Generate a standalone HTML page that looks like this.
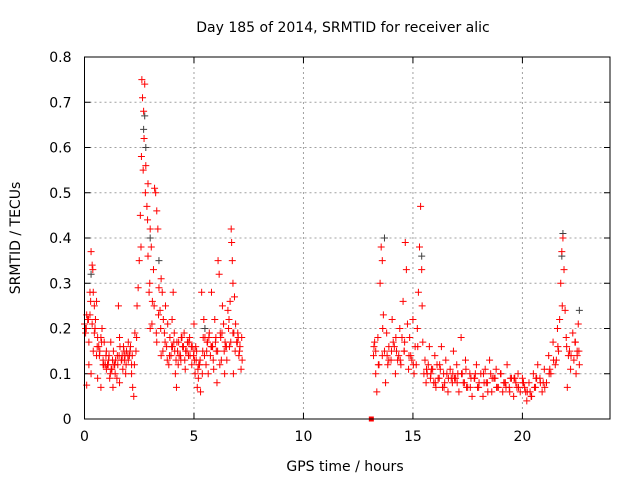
<!DOCTYPE html>
<html><head><meta charset="utf-8"><style>
body{margin:0;background:#fff}
svg text{font-family:"DejaVu Sans","Liberation Sans",sans-serif;font-size:14px;fill:#000}
</style></head><body>
<svg width="640" height="480" id="c"></svg>
<script>
const xTicks=[0,5,10,15,20];
const yTicks=[0,0.1,0.2,0.3,0.4,0.5,0.6,0.7,0.8];
const yTickLabels=["0","0.1","0.2","0.3","0.4","0.5","0.6","0.7","0.8"];
const redX=[0,0.05,0.1,0.1,0.15,0.2,0.2,0.25,0.3,0.3,0.35,0.4,0.4,0.45,0.5,0.55,0.6,0.6,0.7,0.75,0.8,0.85,0.9,1,1,1.1,1.15,1.2,1.25,1.3,1.35,1.4,1.5,1.55,1.6,1.6,1.7,1.75,1.8,1.85,1.9,2,2,2.1,2.15,2.2,2.25,2.3,2.35,2.4,2.45,2.5,2.55,2.6,2.62,2.65,2.7,2.72,2.75,2.8,2.85,2.9,2.9,2.95,3,3,3.05,3.1,3.15,3.2,3.25,3.3,3.3,3.35,3.4,3.45,3.5,3.5,3.55,3.6,3.65,3.7,3.75,3.8,3.85,3.9,3.95,4,4.05,4.1,4.15,4.2,4.25,4.3,4.4,4.45,4.5,4.55,4.6,4.7,4.75,4.8,4.9,5,5,5.05,5.1,5.15,5.2,5.25,5.3,5.35,5.4,5.45,5.5,5.55,5.6,5.65,5.7,5.75,5.8,5.85,5.9,5.95,6,6.05,6.1,6.15,6.2,6.25,6.3,6.35,6.4,6.45,6.5,6.55,6.6,6.65,6.7,6.72,6.75,6.78,6.8,6.85,6.9,6.95,7,7.05,7.1,7.15,7.2,
1.05,1.12,1.22,1.32,1.42,1.52,1.62,1.72,1.82,1.92,2.05,2.15,0.05,0.15,0.25,0.35,0.45,0.55,0.65,0.75,0.85,0.95,4.02,4.12,4.22,4.32,4.42,4.52,4.62,4.72,4.82,4.92,5.02,5.12,5.22,5.42,5.62,5.82,6.02,6.22,6.42,6.62,6.82,7.02,
0.08,0.18,0.28,0.38,0.48,0.58,0.68,0.78,0.88,0.98,1.08,1.18,1.28,1.38,1.48,1.58,1.68,1.78,1.88,1.98,2.08,2.18,2.28,2.38,3.08,3.18,3.28,3.38,3.48,3.58,3.68,3.78,3.88,3.98,4.08,4.18,4.28,4.38,4.48,4.58,4.68,4.78,4.88,4.98,5.08,5.18,5.28,5.38,5.48,5.58,5.68,5.78,5.88,5.98,6.08,6.18,6.28,6.38,6.48,6.58,6.68,6.78,6.88,6.98,7.08,7.18,2.58,2.68,2.78,2.88,2.98,
13.2,13.25,13.3,13.35,13.4,13.45,13.5,13.55,13.6,13.65,13.7,13.75,13.8,13.85,13.9,14,14.05,14.1,14.2,14.25,14.3,14.4,14.45,14.5,14.55,14.6,14.65,14.7,14.75,14.8,14.85,14.9,15,15.05,15.1,15.15,15.2,15.25,15.3,15.35,15.4,15.45,15.5,15.55,15.6,15.7,15.75,15.8,15.9,16,16.05,16.1,16.2,16.3,16.35,16.4,16.5,16.6,16.7,16.8,16.85,16.9,17,17.1,17.2,17.25,17.3,17.4,17.5,17.6,17.7,17.8,17.9,18,18.1,18.2,18.3,18.4,18.5,18.6,18.7,18.8,18.9,19,19.1,19.2,19.3,19.4,19.5,19.6,19.7,19.8,19.9,20,20.1,20.2,20.3,20.4,20.5,20.6,20.7,20.8,20.9,21,21.1,21.2,21.3,21.4,21.5,21.6,21.65,21.7,21.75,21.8,21.85,21.9,21.95,22,22.05,22.1,22.2,22.3,22.35,22.4,22.45,22.5,22.55,22.6,
13.3,13.6,13.9,14.15,14.35,14.6,14.95,15.65,15.85,16.15,16.45,16.75,17.05,17.35,17.65,17.95,18.25,18.55,18.85,19.15,19.45,19.75,20.05,20.35,20.65,20.95,21.25,21.55,22.15,22.5,15.95,16.25,16.55,16.95,17.45,17.85,18.35,18.75,19.25,19.65,20.15,20.55,
13.22,13.42,13.62,13.82,14.02,14.22,14.42,14.62,14.82,15.02,15.22,15.42,15.62,15.82,16.02,16.22,16.42,16.62,16.82,17.02,17.22,17.42,17.62,17.82,18.02,18.22,18.42,18.62,18.82,19.02,19.22,19.42,19.62,19.82,20.02,20.22,20.42,20.62,20.82,21.02,21.22,21.42,21.62,21.82,22.02,22.22,22.42,22.58];
const redY=[0.21,0.19,0.23,0.075,0.22,0.17,0.12,0.28,0.37,0.10,0.34,0.28,0.15,0.25,0.22,0.26,0.18,0.09,0.15,0.07,0.20,0.12,0.17,0.15,0.11,0.13,0.09,0.17,0.11,0.07,0.12,0.10,0.14,0.25,0.08,0.18,0.13,0.11,0.15,0.14,0.12,0.17,0.13,0.16,0.10,0.07,0.05,0.19,0.15,0.25,0.29,0.35,0.45,0.58,0.75,0.71,0.68,0.62,0.74,0.56,0.47,0.52,0.36,0.28,0.42,0.20,0.38,0.26,0.33,0.51,0.50,0.46,0.17,0.42,0.29,0.24,0.31,0.14,0.28,0.22,0.19,0.25,0.16,0.21,0.12,0.18,0.14,0.22,0.28,0.19,0.10,0.07,0.15,0.17,0.13,0.18,0.16,0.19,0.11,0.17,0.14,0.18,0.12,0.21,0.15,0.10,0.13,0.07,0.09,0.12,0.06,0.28,0.15,0.22,0.18,0.12,0.17,0.10,0.19,0.14,0.28,0.16,0.11,0.22,0.18,0.08,0.35,0.32,0.19,0.13,0.25,0.21,0.10,0.16,0.13,0.24,0.22,0.26,0.42,0.39,0.35,0.30,0.10,0.27,0.21,0.17,0.19,0.14,0.16,0.11,0.13,
0.12,0.14,0.11,0.15,0.13,0.12,0.16,0.14,0.13,0.15,0.14,0.12,0.2,0.22,0.23,0.21,0.19,0.14,0.16,0.18,0.13,0.12,0.16,0.15,0.17,0.14,0.18,0.16,0.15,0.17,0.14,0.16,0.13,0.15,0.12,0.18,0.17,0.16,0.15,0.18,0.17,0.16,0.19,0.18,
0.2,0.22,0.26,0.33,0.2,0.16,0.14,0.17,0.12,0.14,0.12,0.1,0.13,0.12,0.09,0.14,0.13,0.16,0.1,0.14,0.15,0.14,0.12,0.18,0.21,0.25,0.19,0.23,0.2,0.15,0.17,0.13,0.14,0.16,0.17,0.13,0.12,0.14,0.16,0.13,0.15,0.17,0.16,0.14,0.16,0.11,0.13,0.1,0.14,0.15,0.18,0.16,0.13,0.17,0.15,0.12,0.19,0.15,0.16,0.2,0.17,0.19,0.15,0.17,0.15,0.18,0.38,0.55,0.5,0.44,0.3,
0.14,0.17,0.10,0.06,0.18,0.12,0.30,0.38,0.35,0.23,0.15,0.08,0.19,0.12,0.16,0.13,0.22,0.17,0.10,0.15,0.13,0.20,0.12,0.18,0.26,0.15,0.39,0.33,0.21,0.11,0.18,0.14,0.22,0.10,0.16,0.12,0.20,0.28,0.38,0.47,0.33,0.17,0.10,0.13,0.08,0.12,0.16,0.09,0.11,0.14,0.07,0.12,0.09,0.16,0.07,0.10,0.13,0.06,0.11,0.08,0.15,0.09,0.12,0.06,0.18,0.10,0.08,0.13,0.07,0.10,0.05,0.09,0.12,0.07,0.10,0.05,0.11,0.08,0.13,0.06,0.09,0.11,0.07,0.10,0.06,0.08,0.12,0.07,0.09,0.05,0.08,0.10,0.06,0.09,0.07,0.04,0.08,0.05,0.10,0.07,0.12,0.09,0.06,0.11,0.08,0.14,0.10,0.17,0.12,0.20,0.15,0.22,0.30,0.37,0.40,0.33,0.24,0.18,0.07,0.14,0.11,0.19,0.13,0.17,0.10,0.15,0.21,0.12,
0.15,0.14,0.13,0.16,0.14,0.15,0.13,0.10,0.11,0.09,0.08,0.09,0.10,0.08,0.09,0.07,0.08,0.10,0.07,0.08,0.09,0.07,0.08,0.06,0.09,0.08,0.11,0.13,0.15,0.14,0.08,0.11,0.10,0.09,0.07,0.10,0.08,0.09,0.07,0.09,0.06,0.07,
0.16,0.12,0.2,0.14,0.15,0.18,0.13,0.17,0.14,0.12,0.16,0.25,0.11,0.1,0.08,0.12,0.07,0.09,0.1,0.08,0.1,0.11,0.07,0.09,0.08,0.1,0.06,0.09,0.07,0.1,0.08,0.06,0.09,0.07,0.08,0.06,0.05,0.09,0.08,0.07,0.1,0.13,0.16,0.25,0.16,0.14,0.17,0.15];
const grayX=[0.3,2.7,2.75,2.8,3.0,3.4,5.5,13.7,15.4,21.85,22.6,21.8];
const grayY=[0.32,0.64,0.67,0.60,0.40,0.35,0.20,0.40,0.36,0.41,0.24,0.36];
const L=84.5,R=610,T=57,B=419,XMAX=24,YMAX=0.8;
const sx=v=>L+v/XMAX*(R-L), sy=v=>B-v/YMAX*(B-T);
const svg=document.getElementById('c');const NS='http://www.w3.org/2000/svg';
function mk(t,a,p){const e=document.createElementNS(NS,t);for(const k in a)e.setAttribute(k,a[k]);(p||svg).appendChild(e);return e;}
const grid=mk('g',{});
xTicks.forEach(v=>{if(v>0)mk('line',{x1:sx(v),x2:sx(v),y1:T,y2:B,stroke:'#a0a0a0','stroke-dasharray':'2,3'},grid);
 mk('line',{x1:sx(v),x2:sx(v),y1:B,y2:B-6,stroke:'#000'});mk('line',{x1:sx(v),x2:sx(v),y1:T,y2:T+6,stroke:'#000'});
 const t=mk('text',{x:sx(v),y:B+22,'text-anchor':'middle'});t.textContent=v;});
yTicks.forEach((v,i)=>{if(v>0&&v<YMAX)mk('line',{x1:L,x2:R,y1:sy(v),y2:sy(v),stroke:'#a0a0a0','stroke-dasharray':'2,3'},grid);
 mk('line',{x1:L,x2:L+6,y1:sy(v),y2:sy(v),stroke:'#000'});mk('line',{x1:R,x2:R-6,y1:sy(v),y2:sy(v),stroke:'#000'});
 const t=mk('text',{x:L-13,y:sy(v)+5,'text-anchor':'end'});t.textContent=yTickLabels[i];});
const g2=mk('g',{stroke:'#404040','stroke-width':1});
grayX.forEach((x,i)=>{const X=sx(x),Y=sy(grayY[i]);mk('path',{d:`M${X-3.5},${Y}H${X+3.5}M${X},${Y-3.5}V${Y+3.5}`},g2);});
const g1=mk('g',{stroke:'#ff0000','stroke-width':1});
redX.forEach((x,i)=>{const X=sx(x),Y=sy(redY[i]);mk('path',{d:`M${X-3.5},${Y}H${X+3.5}M${X},${Y-3.5}V${Y+3.5}`},g1);});
mk('rect',{x:sx(13.1)-2.5,y:sy(0)-2.5,width:5,height:5,fill:'#ff0000'});
const fr=mk('rect',{x:L,y:T,width:R-L,height:B-T,fill:'none',stroke:'#000'});
</script>
<svg style="position:absolute;left:0;top:0" width="640" height="480">
<text x="343" y="32" text-anchor="middle">Day 185 of 2014, SRMTID for receiver alic</text>
<text x="345" y="471" text-anchor="middle">GPS time / hours</text>
<text transform="translate(20,238) rotate(-90)" text-anchor="middle">SRMTID / TECUs</text>
</svg>
</body></html>
